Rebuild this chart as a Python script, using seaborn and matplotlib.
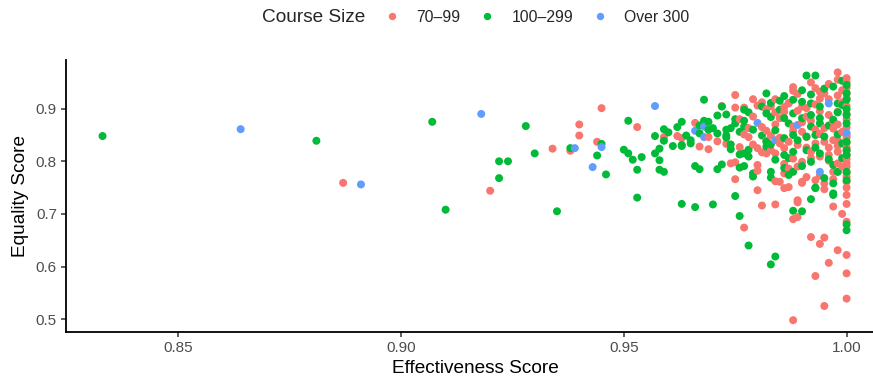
import numpy as np
import pandas as pd
import matplotlib
matplotlib.use("Agg")
import matplotlib.pyplot as plt
from matplotlib.lines import Line2D
import seaborn as sns

# ---------------- data ----------------
categories = ["70\u201399", "100\u2013299", "Over 300"]
colors = ["#F8766D", "#00BA38", "#619CFF"]

red_x = [0.887, 0.920, 0.934, 0.938, 0.940, 0.940, 0.945, 0.944, 0.953, 0.959, 0.962, 0.963, 0.967, 0.969,
         0.975, 0.979, 0.981, 0.975, 0.977, 0.979, 0.982, 0.978, 0.981, 0.984, 0.983, 0.982, 0.973, 0.976,
         0.980, 0.981, 0.982, 0.984, 0.975, 0.975, 0.980, 0.980, 0.984, 0.980, 0.981, 0.984, 0.989, 0.997,
         0.988, 0.989, 0.977, 0.992, 0.994, 0.995, 0.998, 0.996, 0.993, 0.995, 0.988, 0.998, 0.986, 0.990,
         0.993, 0.995, 0.985, 0.987,
         1.000, 1.000, 1.000, 1.000, 1.000, 1.000, 1.000, 1.000, 1.000, 1.000, 1.000, 1.000, 1.000, 1.000,
         1.000, 1.000, 1.000, 1.000, 1.000, 1.000, 1.000,
         0.998, 0.998, 0.998, 0.998, 0.998, 0.998, 0.998, 0.998,
         0.993, 0.994, 0.990, 0.987, 0.986, 0.991, 0.991, 0.996, 0.997, 0.995, 0.993, 0.990, 0.988, 0.987,
         0.989, 0.993, 0.997, 0.996, 0.994, 0.990, 0.989, 0.997, 0.990, 0.995, 0.989, 0.986, 0.986, 0.999,
         0.995, 0.987, 0.982, 0.992, 0.994, 0.989, 0.985, 0.983, 0.978, 0.976, 0.971, 0.969, 0.988, 0.992,
         0.996, 0.991, 0.985, 0.974, 0.991, 0.997, 0.986, 0.994, 0.988, 0.996,
         0.999, 0.996, 0.993, 0.989, 0.986, 0.984, 0.990, 0.994, 0.997, 0.988, 0.985, 0.991, 0.995, 0.998,
         0.992, 0.996, 0.999, 0.987, 0.983, 0.979, 0.977, 0.982, 0.980, 0.984, 0.988, 0.992, 1.000, 0.999,
         1.000, 1.000, 1.000, 1.000, 1.000, 1.000, 0.999, 0.994, 0.972, 0.966]
red_y = [0.759, 0.744, 0.824, 0.820, 0.849, 0.870, 0.901, 0.837, 0.865, 0.846, 0.848, 0.844, 0.828, 0.823,
         0.926, 0.918, 0.912, 0.902, 0.902, 0.885, 0.899, 0.846, 0.865, 0.870, 0.849, 0.839, 0.833, 0.827,
         0.825, 0.817, 0.815, 0.815, 0.798, 0.766, 0.793, 0.782, 0.762, 0.745, 0.716, 0.718, 0.722, 0.714,
         0.690, 0.694, 0.674, 0.656, 0.643, 0.655, 0.631, 0.607, 0.582, 0.525, 0.498, 0.969, 0.749, 0.759,
         0.764, 0.747, 0.761, 0.751,
         0.539, 0.587, 0.622, 0.685, 0.719, 0.736, 0.761, 0.777, 0.790, 0.805, 0.820, 0.835, 0.850, 0.865,
         0.880, 0.890, 0.905, 0.920, 0.930, 0.940, 0.950,
         0.955, 0.925, 0.894, 0.870, 0.840, 0.818, 0.796, 0.780,
         0.939, 0.932, 0.904, 0.910, 0.894, 0.901, 0.885, 0.888, 0.875, 0.863, 0.860, 0.856, 0.866, 0.837,
         0.831, 0.834, 0.840, 0.812, 0.809, 0.799, 0.790, 0.780, 0.761, 0.758, 0.726, 0.777, 0.825, 0.856,
         0.929, 0.911, 0.898, 0.877, 0.919, 0.928, 0.882, 0.905, 0.863, 0.880, 0.838, 0.846, 0.805, 0.818,
         0.826, 0.846, 0.845, 0.796, 0.770, 0.766, 0.795, 0.895, 0.941, 0.947,
         0.935, 0.918, 0.908, 0.896, 0.903, 0.893, 0.874, 0.852, 0.862, 0.858, 0.834, 0.826, 0.837, 0.829,
         0.806, 0.801, 0.790, 0.786, 0.821, 0.832, 0.851, 0.858, 0.906, 0.918, 0.934, 0.950, 0.958, 0.912,
         0.845, 0.826, 0.812, 0.797, 0.770, 0.750, 0.700, 0.773, 0.905, 0.873]

green_x = [0.833, 0.881, 0.907, 0.910, 0.922, 0.924, 0.922, 0.928, 0.930, 0.935, 0.938, 0.945, 0.944, 0.946,
           0.950, 0.951, 0.951, 0.952, 0.954, 0.953, 0.953, 0.957, 0.959, 0.959, 0.960, 0.962, 0.963, 0.963,
           0.965, 0.957, 0.958, 0.958, 0.958, 0.959, 0.963, 0.966, 0.970, 0.975, 0.992, 0.997, 0.988, 0.990,
           0.976, 0.978, 0.984, 0.983, 1.000, 1.000,
           0.968, 0.982, 0.972, 0.971, 0.973, 0.977, 0.978, 0.981, 0.982, 0.985, 0.968, 0.969, 0.967, 0.967,
           0.969, 0.971, 0.973, 0.973, 0.974, 0.975, 0.977, 0.976, 0.977, 0.982, 0.983, 0.974, 0.974, 0.977,
           0.978, 0.982, 0.963, 0.965, 0.966, 0.967, 0.971, 0.972, 0.976, 0.977, 0.979, 0.979, 0.983, 0.983,
           0.976, 0.973,
           0.991, 0.993, 0.997, 0.999, 0.986, 0.992, 0.988, 0.992, 0.994, 1.000, 0.999, 0.998, 0.994, 0.992,
           0.988, 0.986, 0.987, 0.992, 0.994, 0.997, 1.000, 1.000, 0.993, 0.991, 0.988, 0.986, 0.995, 0.999,
           1.000, 1.000, 0.988, 0.991, 0.994, 0.992, 0.987, 0.999, 1.000, 0.986, 0.997, 1.000, 0.998, 1.000,
           0.997, 0.993, 0.997, 0.987, 0.988, 0.986, 0.993, 1.000, 1.000, 0.990,
           0.995, 0.990, 0.985, 0.983, 0.990, 0.996, 0.998, 0.984, 0.989, 0.993, 0.996, 0.984, 0.981, 0.979,
           0.975, 0.978, 0.990, 0.995, 0.998, 1.000, 0.983, 0.970, 0.964, 0.961]
green_y = [0.848, 0.839, 0.875, 0.708, 0.800, 0.800, 0.768, 0.867, 0.815, 0.705, 0.825, 0.833, 0.811, 0.775,
           0.822, 0.815, 0.877, 0.803, 0.808, 0.784, 0.731, 0.848, 0.861, 0.839, 0.855, 0.865, 0.875, 0.829,
           0.840, 0.815, 0.824, 0.802, 0.784, 0.780, 0.719, 0.713, 0.718, 0.734, 0.728, 0.736, 0.706, 0.705,
           0.696, 0.640, 0.619, 0.604, 0.680, 0.669,
           0.917, 0.929, 0.904, 0.887, 0.889, 0.898, 0.893, 0.904, 0.891, 0.898, 0.877, 0.875, 0.868, 0.853,
           0.860, 0.853, 0.860, 0.849, 0.863, 0.872, 0.877, 0.856, 0.866, 0.837, 0.832, 0.832, 0.823, 0.815,
           0.809, 0.828, 0.831, 0.834, 0.791, 0.785, 0.785, 0.794, 0.788, 0.791, 0.777, 0.771, 0.780, 0.769,
           0.813, 0.845,
           0.963, 0.963, 0.942, 0.953, 0.924, 0.927, 0.917, 0.910, 0.904, 0.917, 0.907, 0.910, 0.882, 0.888,
           0.891, 0.882, 0.872, 0.866, 0.872, 0.879, 0.888, 0.872, 0.850, 0.847, 0.850, 0.844, 0.847, 0.834,
           0.837, 0.821, 0.818, 0.821, 0.815, 0.799, 0.806, 0.806, 0.812, 0.787, 0.793, 0.780, 0.780, 0.764,
           0.758, 0.749, 0.739, 0.774, 0.780, 0.812, 0.750, 0.929, 0.899, 0.913,
           0.938, 0.935, 0.915, 0.884, 0.882, 0.868, 0.851, 0.859, 0.840, 0.826, 0.804, 0.803, 0.849, 0.860,
           0.880, 0.822, 0.791, 0.768, 0.893, 0.945, 0.911, 0.863, 0.849, 0.829]

blue_x = [0.864, 0.891, 0.918, 0.939, 0.945, 0.943, 0.957, 0.966, 0.968, 0.968, 0.980, 0.984, 0.996, 1.000,
          0.994, 0.989]
blue_y = [0.861, 0.756, 0.890, 0.825, 0.827, 0.789, 0.905, 0.858, 0.866, 0.846, 0.873, 0.840, 0.910, 0.854,
          0.780, 0.869]

x_ticks = [0.85, 0.90, 0.95, 1.00]
x_tick_labels = ["0.85", "0.90", "0.95", "1.00"]
y_ticks = [0.5, 0.6, 0.7, 0.8, 0.9]
y_tick_labels = ["0.5", "0.6", "0.7", "0.8", "0.9"]

df = pd.concat([
    pd.DataFrame({"eff": red_x, "eq": red_y, "size": categories[0]}),
    pd.DataFrame({"eff": green_x, "eq": green_y, "size": categories[1]}),
    pd.DataFrame({"eff": blue_x, "eq": blue_y, "size": categories[2]}),
], ignore_index=True)
df = df.sort_values("eff", kind="stable").reset_index(drop=True)

# ---------------- style ----------------
sns.set_style("white")
plt.rcParams["font.family"] = ["Liberation Sans", "DejaVu Sans"]

W, H = 873, 381
fig = plt.figure(figsize=(W / 100, H / 100), dpi=100)
left, right, top, bottom = 66, 883.8, 60, 332.4
ax = fig.add_axes([left / W, (H - bottom) / H, (right - left) / W, (bottom - top) / H])

sns.scatterplot(data=df, x="eff", y="eq", hue="size", hue_order=categories,
                palette=colors, s=33, linewidth=0, alpha=1, ax=ax, legend=False)

ax.set_xlim(0.8248, 1.00835)
ax.set_ylim(0.4748, 0.9925)
ax.set_xticks(x_ticks)
ax.set_xticklabels(x_tick_labels)
ax.set_yticks(y_ticks)
ax.set_yticklabels(y_tick_labels)

for s in ["top", "right"]:
    ax.spines[s].set_visible(False)
for s in ["left", "bottom"]:
    ax.spines[s].set_color("black")
    ax.spines[s].set_linewidth(1.3)

ax.tick_params(axis="both", which="major", length=3.5, width=1.1, color="#333333",
               labelsize=11, labelcolor="#4D4D4D", pad=3, direction="out",
               bottom=True, left=True)
ax.set_xlabel("Effectiveness Score", fontsize=13.7, color="black", labelpad=3)
ax.set_ylabel("Equality Score", fontsize=13.7, color="black", labelpad=5)

# legend (top, horizontal)
fig.text(262 / W, 1 - 17 / H, "Course Size", fontsize=13.7, ha="left", va="center")
handles = [Line2D([0], [0], marker="o", linestyle="", markersize=5.3,
                  markerfacecolor=c, markeredgewidth=0) for c in colors]
fig.legend(handles, categories, ncol=3, loc="center left",
           bbox_to_anchor=(383.9 / W, 1 - 17 / H), frameon=False, fontsize=11.3,
           handlelength=1.0, handletextpad=1.09, columnspacing=1.156,
           borderpad=0, borderaxespad=0)

fig.savefig("out.png", dpi=100)
